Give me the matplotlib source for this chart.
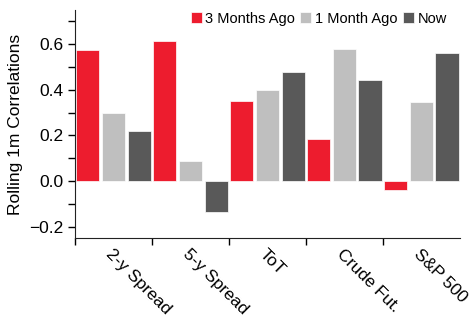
import matplotlib
matplotlib.use("Agg")
import matplotlib.pyplot as plt
import numpy as np

categories = ["2-y Spread", "5-y Spread", "ToT", "Crude Fut.", "S&P 500"]
series_names = ["3 Months Ago", "1 Month Ago", "Now"]
three_months = [0.575, 0.612, 0.350, 0.184, -0.040]
one_month = [0.300, 0.087, 0.398, 0.577, 0.348]
now = [0.218, -0.136, 0.477, 0.442, 0.560]
colors = ["#ED1C2E", "#BFBFBF", "#595959"]

plt.rcParams['font.family'] = ['Liberation Sans', 'DejaVu Sans']

fig = plt.figure(figsize=(4.75, 3.22), dpi=100)
ax = fig.add_axes([0.158, 0.261, 0.81, 0.708])

x = np.arange(len(categories))
offsets = [1/6, 1/2, 5/6]
width = 0.30
for vals, off, c, name in zip([three_months, one_month, now], offsets, colors, series_names):
    ax.bar(x + off, vals, width=width, color=c, label=name, edgecolor='white', linewidth=0.5)

ax.set_xlim(0, 5)
ax.set_ylim(-0.25, 0.75)
ax.set_yticks([-0.2, 0.0, 0.2, 0.4, 0.6])
ax.set_yticks(np.arange(-0.1, 0.75, 0.2), minor=True)
ax.tick_params(axis='y', which='both', length=5, direction='out', labelsize=12.5, width=1)
ax.set_xticks(np.arange(0, 5))
ax.set_xticklabels([])
ax.tick_params(axis='x', which='major', length=5, direction='out', width=1)
ax.set_xticks(x + 0.5, minor=True)
ax.set_xticklabels(categories, minor=True, rotation=-45, ha='left', va='top',
                   rotation_mode='anchor', fontsize=12.5)
ax.tick_params(axis='x', which='minor', length=0, pad=6)

ax.set_ylabel("Rolling 1m Correlations", fontsize=12.5, labelpad=4)
for s in ['top', 'right']:
    ax.spines[s].set_visible(False)
for s in ['left', 'bottom']:
    ax.spines[s].set_color('#222222')

ax.legend(loc='upper right', ncol=3, frameon=False, fontsize=10.5, handlelength=0.75,
          handleheight=0.75, handletextpad=0.27, columnspacing=0.35,
          bbox_to_anchor=(0.99, 1.03), borderaxespad=0.2)

fig.savefig("out.png", dpi=100)
